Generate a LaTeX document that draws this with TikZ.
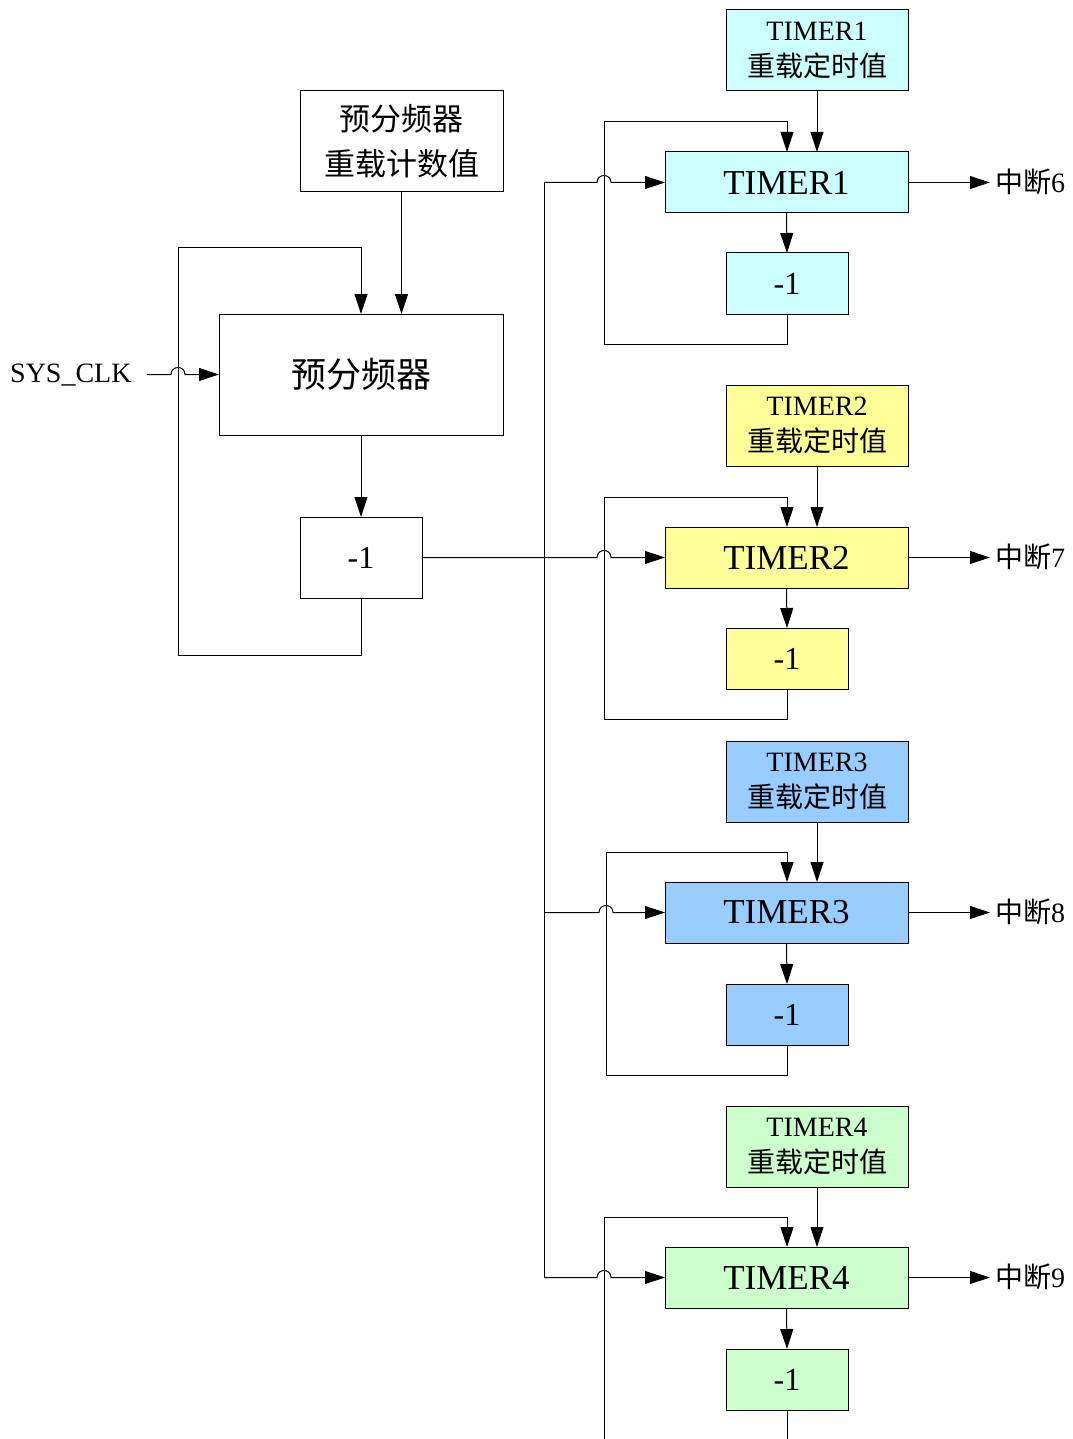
\documentclass[tikz,border=0pt]{standalone}
\usepackage{fontspec}
\setmainfont{Liberation Serif}
\newfontfamily\cjk{Noto Sans CJK SC}
\usetikzlibrary{arrows.meta,calc}
\definecolor{c1}{HTML}{CCFFFF}
\definecolor{c2}{HTML}{FFFF99}
\definecolor{c3}{HTML}{99CCFF}
\definecolor{c4}{HTML}{CCFFCC}
\begin{document}
\begin{tikzpicture}[x=1pt,y=-1pt,
  line/.style={line width=1pt, draw=black},
  arr/.style={line, -{Triangle[length=20pt,width=13pt]}},
  box/.style={draw=black, line width=1pt, inner sep=0pt, outer sep=0pt, anchor=north west},
  bigfont/.style={font=\fontsize{35}{40}\selectfont},
  smallfont/.style={font=\fontsize{28}{36}\selectfont},
  minusfont/.style={font=\fontsize{32}{36}\selectfont}]
\useasboundingbox (0,0) rectangle (1072,1439);

% prescaler part
\node[box, minimum width=203pt, minimum height=101pt, align=center,
      font=\fontsize{31}{45}\selectfont] (rl0) at (300,91) {\cjk 预分频器\\\cjk 重载计数值};
\node[box, minimum width=284pt, minimum height=121pt, bigfont] (pre) at (219,314) {\cjk 预分频器};
\node[box, minimum width=122pt, minimum height=81pt, minusfont] (m0) at (300,517) {-1};
\node[anchor=west, inner sep=0pt, smallfont] (sys) at (10,375) {SYS\_CLK};

\draw[arr] (rl0.south) -- (rl0.south |- pre.north);
\draw[arr] (pre.south) -- (m0.north);
\coordinate (pl1) at (361,655);
\coordinate (pl2) at (178,655);
\coordinate (pl3) at (178,248);
\coordinate (pl4) at (361,248);
\draw[arr] (m0.south) -- (pl1) -- (pl2) -- (pl3) -- (pl4) -- (pre.north);
\coordinate (sh) at (178,374.5);
\draw[arr] ([xshift=15pt]sys.east |- pre.west) -- ($(sh)+(-7,0)$) .. controls +(0,-9.3) and +(0,-9.3) .. ($(sh)+(7,0)$) -- (pre.west);

% bus
\coordinate (bt) at (544,182.5);
\coordinate (bb) at (544,1277.5);
\draw[line] (bt) -- (bb);

\foreach \i/\col/\ry/\ty/\my/\lt/\lb/\lx/\n in {1/c1/10/152/253/122/344/604/6,
    2/c2/385/527/628/497/719/604/7, 3/c3/741/882/984/852/1075/606/8,
    4/c4/1106/1247/1349/1217/1439/604/9}{
  \node[box, fill=\col, minimum width=182pt, minimum height=81pt, align=center, smallfont]
     (r\i) at (726,\ry) {TIMER\i\\\cjk 重载定时值};
  \node[box, fill=\col, minimum width=243pt, minimum height=61pt, bigfont] (t\i) at (665,\ty) {TIMER\i};
  \node[box, fill=\col, minimum width=122pt, minimum height=61pt, minusfont] (d\i) at (726,\my) {-1};
  \node[anchor=west, inner sep=0pt, smallfont] (o\i) at (995,\ty+30) {{\cjk 中断}\n};
  \draw[arr] (r\i.south) -- (r\i.south |- t\i.north);
  \draw[arr] (t\i.south) -- (d\i.north);
  \draw[arr] (t\i.east) -- ([xshift=-5pt]t\i.east -| o\i.west);
  \coordinate (a\i) at (787,\lb);
  \coordinate (b\i) at (\lx,\lb);
  \coordinate (c\i) at (\lx,\lt);
  \coordinate (e\i) at (787,\lt);
  \ifnum\i=4
    \draw[line] (d\i.south) -- (a\i);
    \draw[arr] (b\i) -- (c\i) -- (e\i) -- (e\i |- t\i.north);
  \else
    \draw[arr] (d\i.south) -- (a\i) -- (b\i) -- (c\i) -- (e\i) -- (e\i |- t\i.north);
  \fi
  \coordinate (h\i) at (\lx,\ty+30.5);
  \ifnum\i=2
    \draw[arr] (m0.east) -- ($(h\i)+(-7,0)$) .. controls +(0,-9.3) and +(0,-9.3) .. ($(h\i)+(7,0)$) -- (t\i.west);
  \else
    \draw[arr] (bt |- t\i.west) -- ($(h\i)+(-7,0)$) .. controls +(0,-9.3) and +(0,-9.3) .. ($(h\i)+(7,0)$) -- (t\i.west);
  \fi
}
\end{tikzpicture}
\end{document}
